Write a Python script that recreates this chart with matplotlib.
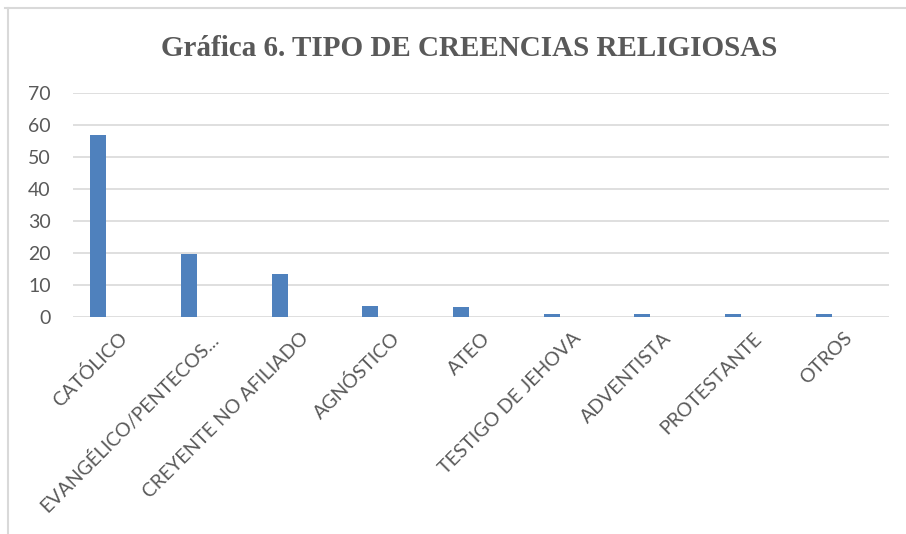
import matplotlib.pyplot as plt
import numpy as np

categorias = ["CATÓLICO", "EVANGÉLICO/PENTECOS...", "CREYENTE NO AFILIADO", "AGNÓSTICO",
              "ATEO", "TESTIGO DE JEHOVA", "ADVENTISTA", "PROTESTANTE", "OTROS"]
valores = [56.9, 19.6, 13.3, 3.4, 3.0, 1.0, 1.0, 1.0, 1.0]
yticks = [0, 10, 20, 30, 40, 50, 60, 70]

gris = "#595959"

fig = plt.figure(figsize=(9.06, 5.34), dpi=100)
ax = fig.add_axes([73 / 906, 1 - 316.7 / 534, (889 - 73) / 906, (316.7 - 93) / 534])

x = np.arange(len(categorias))
ax.bar(x - 0.22, valores, width=0.176, color="#4f81bd", zorder=3)

ax.set_xlim(-0.5, len(categorias) - 0.5)
ax.set_ylim(0, 70)
ax.set_yticks(yticks)
ax.set_yticklabels([str(v) for v in yticks], fontsize=14, color=gris, family="Lato")
ax.set_xticks(x)
ax.set_xticklabels(categorias, rotation=45, ha="right", rotation_mode="anchor",
                   fontsize=14, color=gris, family="Lato")
ax.tick_params(length=0)
ax.tick_params(axis="x", pad=9)
ax.tick_params(axis="y", pad=16)
ax.grid(axis="y", color="#d9d9d9", linewidth=1.2, zorder=0)
for s in ax.spines.values():
    s.set_visible(False)

fig.text(469 / 906, 1 - 49 / 534, "Gráfica 6. TIPO DE CREENCIAS RELIGIOSAS",
         ha="center", va="center", fontsize=21, fontweight="bold",
         family="Liberation Serif", color=gris)

# marco del área del gráfico (solo arriba e izquierda visibles)
fig.add_artist(plt.Line2D([5 / 906, 1], [1 - 7.5 / 534] * 2, color="#d9d9d9", lw=1.5,
                          transform=fig.transFigure))
fig.add_artist(plt.Line2D([8 / 906] * 2, [0, 1 - 7.5 / 534], color="#d9d9d9", lw=1.5,
                          transform=fig.transFigure))

fig.savefig("out.png", dpi=100)
